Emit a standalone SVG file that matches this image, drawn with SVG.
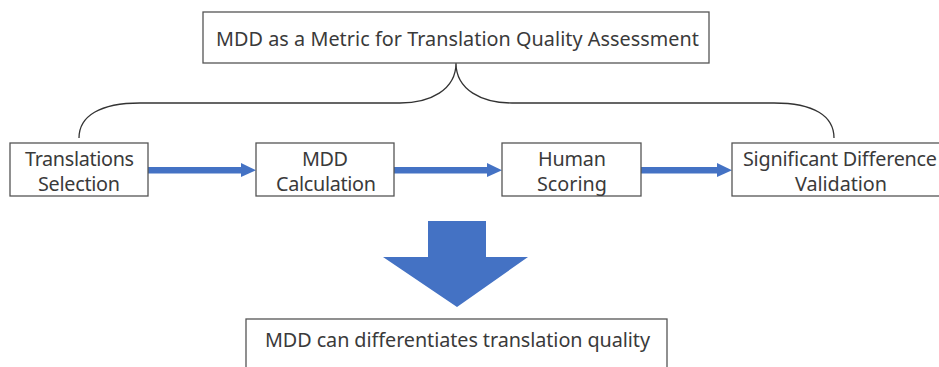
<svg xmlns="http://www.w3.org/2000/svg" width="939" height="367" viewBox="0 0 939 367">
<style>
.box{fill:#fff;stroke:#555;stroke-width:1.3}
.t{font-family:"Noto Sans","Open Sans",sans-serif;fill:#3a3a3a;text-anchor:middle;font-size:19.8px}
.blue{fill:#4472C4}
</style>
<rect width="939" height="367" fill="#fff"/>
<g id="connectors">
<path d="M79,138 C79,116 100,103 140,103 L400,103 C430,103 456,90 456,63 C456,90 482,103 512,103 L774,103 C814,103 834,116 834,138" fill="none" stroke="#333" stroke-width="1.3"/>
<g class="blue">
<rect x="148" y="167" width="94" height="6.5"/><polygon points="241,163 256,170.2 241,177"/>
<rect x="394" y="167" width="94" height="6.5"/><polygon points="487,163 502,170.2 487,177"/>
<rect x="641" y="167" width="77" height="6.5"/><polygon points="717,163 732,170.2 717,177"/>
<polygon points="428,221 486,221 486,257 528,257 457,307 383,257 428,257"/>
</g>
</g>
<g id="top">
<rect class="box" x="203" y="12" width="506" height="51"/>
<text class="t" x="457.5" y="46" textLength="483">MDD as a Metric for Translation Quality Assessment</text>
</g>
<g id="n1">
<rect class="box" x="10" y="143" width="138" height="53"/>
<text class="t" x="79.5" y="165.5" textLength="109">Translations</text>
<text class="t" x="79" y="191" textLength="82">Selection</text>
</g>
<g id="n2">
<rect class="box" x="256" y="143" width="138" height="53"/>
<text class="t" x="325" y="165.5" textLength="46">MDD</text>
<text class="t" x="326" y="191" textLength="100">Calculation</text>
</g>
<g id="n3">
<rect class="box" x="502" y="143" width="139" height="53"/>
<text class="t" x="572" y="165.5" textLength="68">Human</text>
<text class="t" x="572" y="191" textLength="70">Scoring</text>
</g>
<g id="n4">
<rect class="box" x="732" y="143" width="220" height="53"/>
<text class="t" x="840" y="165.5" textLength="194">Significant Difference</text>
<text class="t" x="841" y="191" textLength="92">Validation</text>
</g>
<g id="result">
<rect class="box" x="246" y="319" width="421" height="60"/>
<text class="t" x="457.5" y="346.5" textLength="385">MDD can differentiates translation quality</text>
</g>
</svg>
